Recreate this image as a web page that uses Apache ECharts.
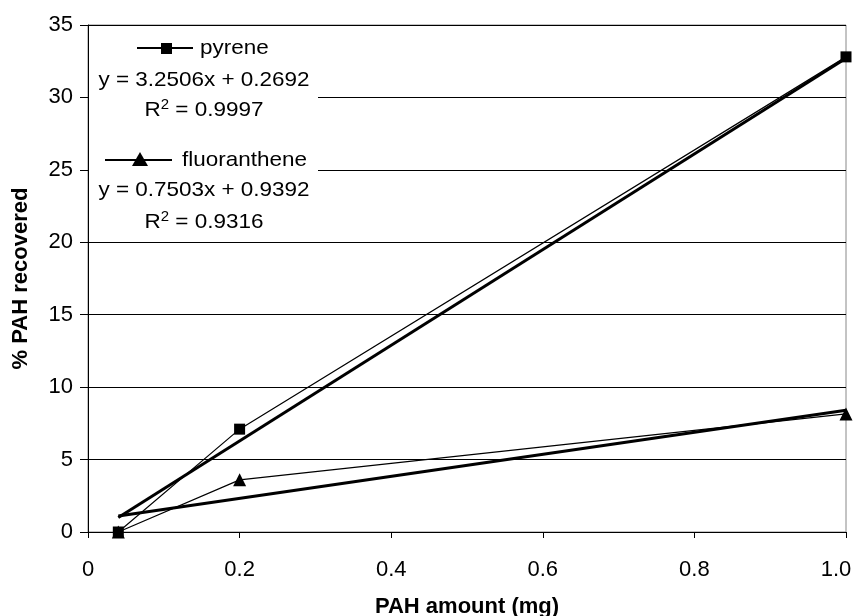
<!DOCTYPE html>
<html>
<head>
<meta charset="utf-8">
<script src="https://cdn.jsdelivr.net/npm/echarts@6/dist/echarts.min.js"></script>
<style>
  html, body { margin: 0; padding: 0; background: #fff; }
  #chart { width: 857px; height: 616px; }
</style>
</head>
<body>
<div id="chart"></div>
<script>
// PAH amount (mg) and % recovered for each compound
const pahAmount = [0.04, 0.2, 1.0];
const pyreneRecovered = [0.0, 7.1, 32.8];
const fluorRecovered = [0.0, 3.6, 8.15];

// Linear fit lines, end points read over the measured range
const pyreneFitX = [0.04, 1.0];
const pyreneFitY = [1.0, 32.7];
const fluorFitX = [0.04, 1.0];
const fluorFitY = [1.1, 8.4];

// Legend and fit annotation text
const pyreneName = 'pyrene';
const pyreneEq = 'y = 3.2506x + 0.2692';
const pyreneR2 = '0.9997';
const fluorName = 'fluoranthene';
const fluorEq = 'y = 0.7503x + 0.9392';
const fluorR2 = '0.9316';

const xTicks = [0, 0.2, 0.4, 0.6, 0.8, 1.0];
const yTicks = [0, 5, 10, 15, 20, 25, 30, 35];

const pairs = (xs, ys) => xs.map((x, i) => [x, ys[i]]);

const FONT = '"Liberation Sans", Arial, sans-serif';
const FS = 22;
const chart = echarts.init(document.getElementById('chart'));

const textStyle = { fontFamily: FONT, fontSize: 21, fill: '#000' };
const r2Rich = {
  sup: { fontFamily: FONT, fontSize: 14, verticalAlign: 'top', padding: [0, 0, 10, 0], fill: '#000' },
  n: { fontFamily: FONT, fontSize: 21, fill: '#000' }
};
const SX = 1.07;
const xMax = xTicks[xTicks.length - 1];

chart.setOption({
  animation: false,
  backgroundColor: '#fff',
  grid: { left: 88, right: 11, top: 25, bottom: 84, containLabel: false,
          outerBoundsMode: 'none',
          show: true, borderColor: '#888', borderWidth: 1 },
  xAxis: {
    type: 'value', min: xTicks[0], max: xMax, interval: 0.2,
    name: 'PAH amount (mg)', nameLocation: 'middle', nameGap: 64,
    nameTextStyle: { fontFamily: FONT, fontSize: FS, fontWeight: 'bold', color: '#000' },
    axisLine: { lineStyle: { color: '#000', width: 1 } },
    axisTick: { show: true, inside: false, length: 6, lineStyle: { color: '#000' } },
    axisLabel: {
      fontFamily: FONT, fontSize: FS, color: '#000', margin: 27,
      formatter: v => (v === 0 ? '0' : (v >= xMax ? '{last|' + v.toFixed(1) + '}' : v.toFixed(1))),
      rich: { last: { fontFamily: FONT, fontSize: FS, color: '#000', padding: [0, 20, 0, 0] } }
    },
    splitLine: { show: false }
  },
  yAxis: {
    type: 'value', min: yTicks[0], max: yTicks[yTicks.length - 1], interval: 5,
    name: '% PAH recovered', nameLocation: 'middle', nameGap: 56, nameRotate: 90,
    nameTextStyle: { fontFamily: FONT, fontSize: FS, fontWeight: 'bold', color: '#000' },
    axisLine: { show: true, lineStyle: { color: '#000', width: 1 } },
    axisTick: { show: true, inside: false, length: 8, lineStyle: { color: '#000' } },
    axisLabel: { fontFamily: FONT, fontSize: FS, color: '#000', margin: 15 },
    splitLine: { show: true, lineStyle: { color: '#000', width: 1 } }
  },
  series: [
    {
      name: pyreneName, type: 'line', data: pairs(pahAmount, pyreneRecovered),
      symbol: 'rect', symbolSize: 11, z: 4,
      lineStyle: { color: '#000', width: 1.2 }, itemStyle: { color: '#000' }
    },
    {
      name: fluorName, type: 'line', data: pairs(pahAmount, fluorRecovered),
      symbol: 'triangle', symbolSize: 13, z: 4,
      lineStyle: { color: '#000', width: 1.2 }, itemStyle: { color: '#000' }
    },
    {
      name: pyreneName + ' fit', type: 'line', data: pairs(pyreneFitX, pyreneFitY),
      symbol: 'none', z: 3, lineStyle: { color: '#000', width: 3 }
    },
    {
      name: fluorName + ' fit', type: 'line', data: pairs(fluorFitX, fluorFitY),
      symbol: 'none', z: 3, lineStyle: { color: '#000', width: 3 }
    }
  ],
  graphic: [
    // white panel behind the legend and fit text
    { type: 'rect', z: 2, shape: { x: 89, y: 26, width: 229, height: 214 },
      style: { fill: '#fff' } },
    // pyrene key
    { type: 'line', z: 10, shape: { x1: 137, y1: 48, x2: 193, y2: 48 },
      style: { stroke: '#000', lineWidth: 1.8 } },
    { type: 'rect', z: 11, shape: { x: 161, y: 43, width: 11, height: 11 },
      style: { fill: '#000' } },
    { type: 'text', z: 10, x: 200, y: 48, scaleX: SX,
      style: Object.assign({ text: pyreneName, textVerticalAlign: 'middle' }, textStyle) },
    { type: 'text', z: 10, x: 204, y: 80, scaleX: SX,
      style: Object.assign({ text: pyreneEq, textAlign: 'center', textVerticalAlign: 'middle' }, textStyle) },
    { type: 'text', z: 10, x: 204, y: 110, scaleX: SX,
      style: { text: '{n|R}{sup|2}{n| = ' + pyreneR2 + '}', rich: r2Rich,
               align: 'center', verticalAlign: 'middle' } },
    // fluoranthene key
    { type: 'line', z: 10, shape: { x1: 105, y1: 160, x2: 172, y2: 160 },
      style: { stroke: '#000', lineWidth: 1.8 } },
    { type: 'polygon', z: 11, shape: { points: [[140, 152], [148, 166], [132, 166]] },
      style: { fill: '#000' } },
    { type: 'text', z: 10, x: 182, y: 160, scaleX: SX,
      style: Object.assign({ text: fluorName, textVerticalAlign: 'middle' }, textStyle) },
    { type: 'text', z: 10, x: 204, y: 190, scaleX: SX,
      style: Object.assign({ text: fluorEq, textAlign: 'center', textVerticalAlign: 'middle' }, textStyle) },
    { type: 'text', z: 10, x: 204, y: 222, scaleX: SX,
      style: { text: '{n|R}{sup|2}{n| = ' + fluorR2 + '}', rich: r2Rich,
               align: 'center', verticalAlign: 'middle' } }
  ]
});
</script>
</body>
</html>
